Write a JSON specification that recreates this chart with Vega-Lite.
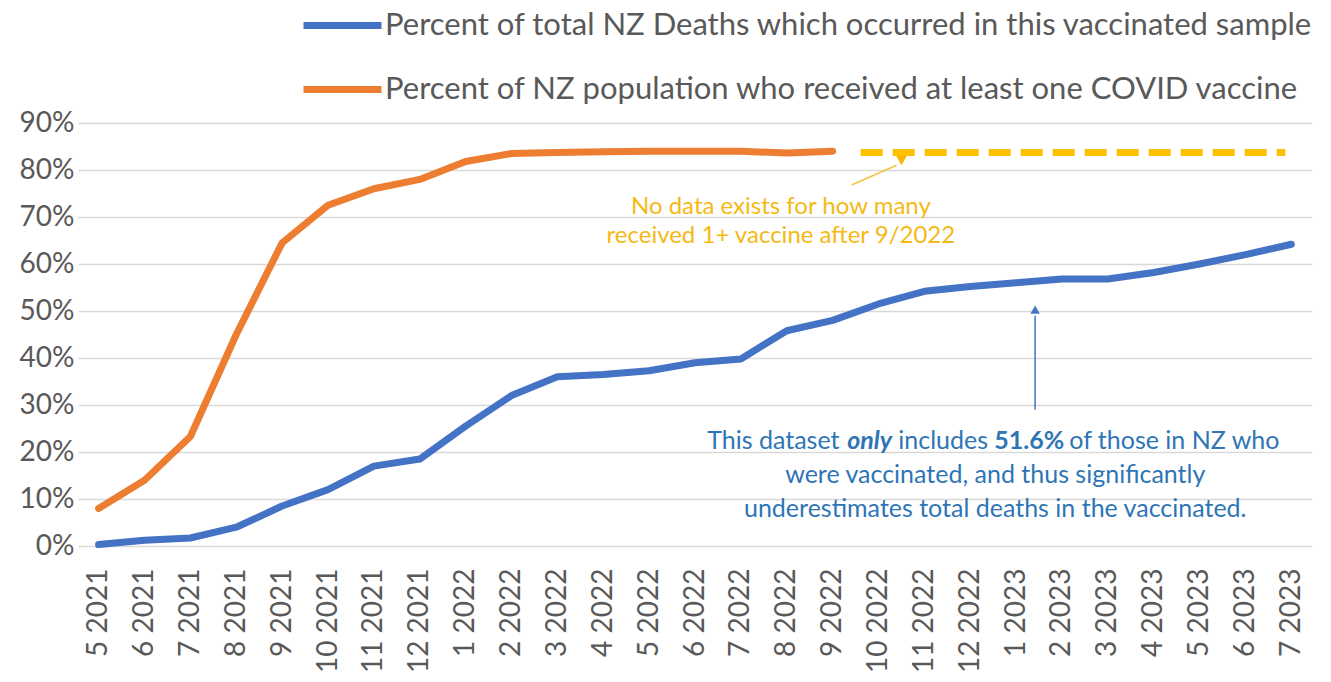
{
  "$schema": "https://vega.github.io/schema/vega-lite/v6.json",
  "width": 1234,
  "height": 423,
  "autosize": {"type": "none"},
  "padding": {"left": 78, "top": 123, "right": 19, "bottom": 136},
  "background": "white",
  "config": {
    "view": {"stroke": null},
    "font": "Lato",
    "axis": {"labelFont": "Lato", "labelColor": "#595959", "domain": false, "ticks": false, "title": null},
    "legend": {"labelFont": "Lato"}
  },
  "datasets": {
    "series": [
      {"month": "5 2021", "series": "Percent of total NZ Deaths which occurred in this vaccinated sample", "value": 0.003},
      {"month": "6 2021", "series": "Percent of total NZ Deaths which occurred in this vaccinated sample", "value": 0.012},
      {"month": "7 2021", "series": "Percent of total NZ Deaths which occurred in this vaccinated sample", "value": 0.017},
      {"month": "8 2021", "series": "Percent of total NZ Deaths which occurred in this vaccinated sample", "value": 0.040},
      {"month": "9 2021", "series": "Percent of total NZ Deaths which occurred in this vaccinated sample", "value": 0.085},
      {"month": "10 2021", "series": "Percent of total NZ Deaths which occurred in this vaccinated sample", "value": 0.120},
      {"month": "11 2021", "series": "Percent of total NZ Deaths which occurred in this vaccinated sample", "value": 0.170},
      {"month": "12 2021", "series": "Percent of total NZ Deaths which occurred in this vaccinated sample", "value": 0.185},
      {"month": "1 2022", "series": "Percent of total NZ Deaths which occurred in this vaccinated sample", "value": 0.255},
      {"month": "2 2022", "series": "Percent of total NZ Deaths which occurred in this vaccinated sample", "value": 0.320},
      {"month": "3 2022", "series": "Percent of total NZ Deaths which occurred in this vaccinated sample", "value": 0.360},
      {"month": "4 2022", "series": "Percent of total NZ Deaths which occurred in this vaccinated sample", "value": 0.365},
      {"month": "5 2022", "series": "Percent of total NZ Deaths which occurred in this vaccinated sample", "value": 0.373},
      {"month": "6 2022", "series": "Percent of total NZ Deaths which occurred in this vaccinated sample", "value": 0.390},
      {"month": "7 2022", "series": "Percent of total NZ Deaths which occurred in this vaccinated sample", "value": 0.398},
      {"month": "8 2022", "series": "Percent of total NZ Deaths which occurred in this vaccinated sample", "value": 0.458},
      {"month": "9 2022", "series": "Percent of total NZ Deaths which occurred in this vaccinated sample", "value": 0.480},
      {"month": "10 2022", "series": "Percent of total NZ Deaths which occurred in this vaccinated sample", "value": 0.515},
      {"month": "11 2022", "series": "Percent of total NZ Deaths which occurred in this vaccinated sample", "value": 0.542},
      {"month": "12 2022", "series": "Percent of total NZ Deaths which occurred in this vaccinated sample", "value": 0.552},
      {"month": "1 2023", "series": "Percent of total NZ Deaths which occurred in this vaccinated sample", "value": 0.560},
      {"month": "2 2023", "series": "Percent of total NZ Deaths which occurred in this vaccinated sample", "value": 0.568},
      {"month": "3 2023", "series": "Percent of total NZ Deaths which occurred in this vaccinated sample", "value": 0.568},
      {"month": "4 2023", "series": "Percent of total NZ Deaths which occurred in this vaccinated sample", "value": 0.582},
      {"month": "5 2023", "series": "Percent of total NZ Deaths which occurred in this vaccinated sample", "value": 0.600},
      {"month": "6 2023", "series": "Percent of total NZ Deaths which occurred in this vaccinated sample", "value": 0.620},
      {"month": "7 2023", "series": "Percent of total NZ Deaths which occurred in this vaccinated sample", "value": 0.642},
      {"month": "5 2021", "series": "Percent of NZ population who received at least one COVID vaccine", "value": 0.080},
      {"month": "6 2021", "series": "Percent of NZ population who received at least one COVID vaccine", "value": 0.140},
      {"month": "7 2021", "series": "Percent of NZ population who received at least one COVID vaccine", "value": 0.233},
      {"month": "8 2021", "series": "Percent of NZ population who received at least one COVID vaccine", "value": 0.450},
      {"month": "9 2021", "series": "Percent of NZ population who received at least one COVID vaccine", "value": 0.645},
      {"month": "10 2021", "series": "Percent of NZ population who received at least one COVID vaccine", "value": 0.725},
      {"month": "11 2021", "series": "Percent of NZ population who received at least one COVID vaccine", "value": 0.760},
      {"month": "12 2021", "series": "Percent of NZ population who received at least one COVID vaccine", "value": 0.780},
      {"month": "1 2022", "series": "Percent of NZ population who received at least one COVID vaccine", "value": 0.818},
      {"month": "2 2022", "series": "Percent of NZ population who received at least one COVID vaccine", "value": 0.835},
      {"month": "3 2022", "series": "Percent of NZ population who received at least one COVID vaccine", "value": 0.837},
      {"month": "4 2022", "series": "Percent of NZ population who received at least one COVID vaccine", "value": 0.839},
      {"month": "5 2022", "series": "Percent of NZ population who received at least one COVID vaccine", "value": 0.840},
      {"month": "6 2022", "series": "Percent of NZ population who received at least one COVID vaccine", "value": 0.840},
      {"month": "7 2022", "series": "Percent of NZ population who received at least one COVID vaccine", "value": 0.840},
      {"month": "8 2022", "series": "Percent of NZ population who received at least one COVID vaccine", "value": 0.836},
      {"month": "9 2022", "series": "Percent of NZ population who received at least one COVID vaccine", "value": 0.840}
    ]
  },
  "layer": [
    {
      "data": {"name": "series"},
      "mark": {"type": "line", "strokeWidth": 7, "strokeCap": "round", "strokeJoin": "round"},
      "encoding": {
        "x": {
          "field": "month", "type": "ordinal", "sort": null,
          "scale": {"type": "point", "padding": 0.45},
          "axis": {"labelAngle": -90, "labelFontSize": 28, "labelPadding": 22, "grid": false}
        },
        "y": {
          "field": "value", "type": "quantitative",
          "scale": {"domain": [0, 0.9], "nice": false},
          "axis": {"format": ".0%", "values": [0, 0.1, 0.2, 0.3, 0.4, 0.5, 0.6, 0.7, 0.8, 0.9], "labelFontSize": 28, "labelPadding": 4, "grid": true, "gridColor": "#D9D9D9", "gridWidth": 1.5}
        },
        "color": {
          "field": "series", "type": "nominal",
          "scale": {
            "domain": ["Percent of total NZ Deaths which occurred in this vaccinated sample", "Percent of NZ population who received at least one COVID vaccine"],
            "range": ["#4472C4", "#ED7D31"]
          },
          "legend": {
            "orient": "none", "legendX": 222, "legendY": -140, "direction": "vertical", "title": null,
            "symbolType": "stroke", "symbolStrokeWidth": 7, "symbolSize": 6084,
            "labelFontSize": 31, "labelColor": "#595959", "labelLimit": 2000, "rowPadding": 6, "labelOffset": 0
          }
        }
      }
    },
    {
      "data": {"values": [{"month": "9 2022", "month_end": "7 2023", "value": 0.837}]},
      "mark": {"type": "rule", "color": "#FFC000", "strokeWidth": 7, "strokeDash": [22, 10], "xOffset": 28, "x2Offset": -6},
      "encoding": {
        "x": {"field": "month", "type": "ordinal", "sort": null},
        "x2": {"field": "month_end"},
        "y": {"field": "value", "type": "quantitative"}
      }
    },
    {
      "data": {"values": [{"month": "9 2022", "month_end": "10 2022", "value": 0.768, "value_end": 0.81}]},
      "mark": {"type": "rule", "color": "#F5C242", "strokeWidth": 1.5, "xOffset": 19, "x2Offset": 18},
      "encoding": {
        "x": {"field": "month", "type": "ordinal", "sort": null},
        "x2": {"field": "month_end"},
        "y": {"field": "value", "type": "quantitative"},
        "y2": {"field": "value_end"}
      }
    },
    {
      "data": {"values": [{"month": "10 2022", "value": 0.82}]},
      "mark": {"type": "point", "shape": "triangle-down", "filled": true, "color": "#F5B800", "size": 110, "opacity": 1, "xOffset": 23},
      "encoding": {
        "x": {"field": "month", "type": "ordinal", "sort": null},
        "y": {"field": "value", "type": "quantitative"}
      }
    },
    {
      "data": {"values": [{"month": "1 2023", "value": 0.29, "value_end": 0.49}]},
      "mark": {"type": "rule", "color": "#4472C4", "strokeWidth": 1.5, "xOffset": 19},
      "encoding": {
        "x": {"field": "month", "type": "ordinal", "sort": null},
        "y": {"field": "value", "type": "quantitative"},
        "y2": {"field": "value_end"}
      }
    },
    {
      "data": {"values": [{"month": "1 2023", "value": 0.503}]},
      "mark": {"type": "point", "shape": "triangle-up", "filled": true, "color": "#4472C4", "size": 90, "opacity": 1, "xOffset": 19},
      "encoding": {
        "x": {"field": "month", "type": "ordinal", "sort": null},
        "y": {"field": "value", "type": "quantitative"}
      }
    },
    {
      "data": {"values": [
        {"month": "7 2022", "value": 0.721, "label": "No data exists for how many"},
        {"month": "7 2022", "value": 0.66, "label": "received 1+ vaccine after 9/2022"}
      ]},
      "mark": {"type": "text", "color": "#F5B914", "fontSize": 24, "align": "center", "baseline": "middle", "xOffset": 40},
      "encoding": {
        "x": {"field": "month", "type": "ordinal", "sort": null},
        "y": {"field": "value", "type": "quantitative"},
        "text": {"field": "label"}
      }
    },
    {
      "data": {"values": [
        {"month": "12 2022", "value": 0.151, "label": "were vaccinated, and thus significantly"},
        {"month": "12 2022", "value": 0.079, "label": "underestimates total deaths in the vaccinated."}
      ]},
      "mark": {"type": "text", "color": "#2E75B6", "fontSize": 25, "align": "center", "baseline": "middle", "xOffset": 25},
      "encoding": {
        "x": {"field": "month", "type": "ordinal", "sort": null},
        "y": {"field": "value", "type": "quantitative"},
        "text": {"field": "label"}
      }
    },
    {
      "data": {"values": [{"month": "12 2022", "value": 0.223, "label": "This dataset"}]},
      "mark": {"type": "text", "color": "#2E75B6", "fontSize": 25, "align": "left", "baseline": "middle", "xOffset": -263},
      "encoding": {
        "x": {"field": "month", "type": "ordinal", "sort": null},
        "y": {"field": "value", "type": "quantitative"},
        "text": {"field": "label"}
      }
    },
    {
      "data": {"values": [{"month": "12 2022", "value": 0.223, "label": "only"}]},
      "mark": {"type": "text", "color": "#2E75B6", "fontSize": 25, "fontWeight": "bold", "fontStyle": "italic", "align": "left", "baseline": "middle", "xOffset": -123},
      "encoding": {
        "x": {"field": "month", "type": "ordinal", "sort": null},
        "y": {"field": "value", "type": "quantitative"},
        "text": {"field": "label"}
      }
    },
    {
      "data": {"values": [{"month": "12 2022", "value": 0.223, "label": "includes"}]},
      "mark": {"type": "text", "color": "#2E75B6", "fontSize": 25, "align": "left", "baseline": "middle", "xOffset": -72},
      "encoding": {
        "x": {"field": "month", "type": "ordinal", "sort": null},
        "y": {"field": "value", "type": "quantitative"},
        "text": {"field": "label"}
      }
    },
    {
      "data": {"values": [{"month": "12 2022", "value": 0.223, "label": "51.6%"}]},
      "mark": {"type": "text", "color": "#2E75B6", "fontSize": 25, "fontWeight": "bold", "align": "left", "baseline": "middle", "xOffset": 24},
      "encoding": {
        "x": {"field": "month", "type": "ordinal", "sort": null},
        "y": {"field": "value", "type": "quantitative"},
        "text": {"field": "label"}
      }
    },
    {
      "data": {"values": [{"month": "12 2022", "value": 0.223, "label": "of those in NZ who"}]},
      "mark": {"type": "text", "color": "#2E75B6", "fontSize": 25, "align": "left", "baseline": "middle", "xOffset": 99},
      "encoding": {
        "x": {"field": "month", "type": "ordinal", "sort": null},
        "y": {"field": "value", "type": "quantitative"},
        "text": {"field": "label"}
      }
    }
  ]
}
